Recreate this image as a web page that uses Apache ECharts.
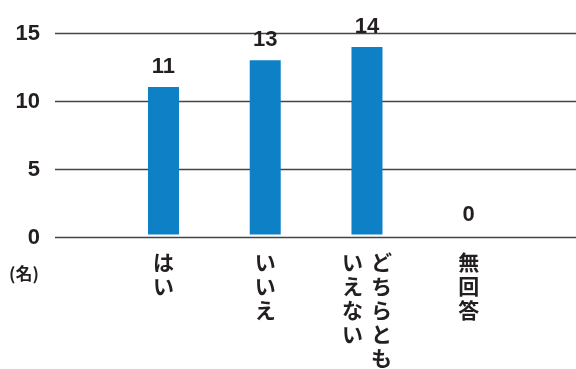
<!DOCTYPE html>
<html>
<head>
<meta charset="utf-8">
<script src="https://cdn.jsdelivr.net/npm/echarts@6/dist/echarts.min.js"></script>
<style>
  html, body { margin: 0; padding: 0; background: #fff; }
  #chart { width: 576px; height: 369px; }
</style>
</head>
<body>
<div id="chart"></div>
<script>
// Answers; "\n" splits a label into vertical columns, right column first
const categories = ['はい', 'いいえ', 'どちらとも\nいえない', '無回答'];
const counts = [11, 13, 14, 0];
const yTicks = [0, 5, 10, 15];
const unitLabel = '(名)';

const textColor = '#231f20';
const numFont = '"Liberation Sans", Arial, sans-serif';
const jpFont = '"Noto Sans CJK JP", sans-serif';

// Build a vertical (tategaki) label: one character per line, columns side by side
function verticalLabel(name) {
  const cols = name.split('\n').map(s => Array.from(s));
  cols.reverse(); // draw left-to-right on screen
  const rows = Math.max(...cols.map(c => c.length));
  const lines = [];
  for (let r = 0; r < rows; r++) {
    lines.push(cols.map(c => '{c|' + (c[r] || '\u3000') + '}').join(''));
  }
  return lines.join('\n');
}

const chart = echarts.init(document.getElementById('chart'), null, { renderer: 'canvas' });

const yRange = { min: yTicks[0], max: yTicks[yTicks.length - 1], interval: yTicks[1] - yTicks[0] };

chart.setOption({
  animation: false,
  grid: [
    { left: 55, right: 0, top: 33.5, bottom: 131.5 },
    { left: 112.6, width: 407, top: 33.5, bottom: 131.5 }
  ],
  xAxis: [
    { gridIndex: 0, type: 'value', show: false, min: 0, max: 1 },
    {
      gridIndex: 1,
      type: 'category',
      data: categories,
      axisLine: { show: false },
      axisTick: { show: false },
      axisLabel: {
        interval: 0,
        margin: 16,
        formatter: verticalLabel,
        rich: {
          c: {
            fontFamily: jpFont,
            fontWeight: 'bold',
            fontSize: 21,
            lineHeight: 24,
            width: 29,
            align: 'center',
            color: textColor
          }
        }
      }
    }
  ],
  yAxis: [
    {
      gridIndex: 0,
      type: 'value',
      min: yRange.min,
      max: yRange.max,
      interval: yRange.interval,
      axisLine: { show: false },
      axisTick: { show: false },
      axisLabel: {
        margin: 15,
        fontFamily: numFont,
        fontWeight: 'bold',
        fontSize: 22,
        color: textColor
      },
      splitLine: { show: true, lineStyle: { color: '#444', width: 1.3 } }
    },
    {
      gridIndex: 1,
      type: 'value',
      min: yRange.min,
      max: yRange.max,
      interval: yRange.interval,
      show: false,
      splitLine: { show: false }
    }
  ],
  graphic: [
    {
      type: 'text',
      left: 9,
      top: 265,
      style: {
        text: unitLabel,
        fontFamily: jpFont,
        fontWeight: 'bold',
        fontSize: 17,
        fill: textColor
      }
    }
  ],
  series: [
    {
      type: 'bar',
      xAxisIndex: 1,
      yAxisIndex: 1,
      data: counts,
      barWidth: 31,
      itemStyle: { color: '#0d80c6' },
      label: {
        show: true,
        position: 'top',
        distance: 9,
        fontFamily: numFont,
        fontWeight: 'bold',
        fontSize: 22,
        color: textColor
      }
    }
  ]
});
</script>
</body>
</html>
